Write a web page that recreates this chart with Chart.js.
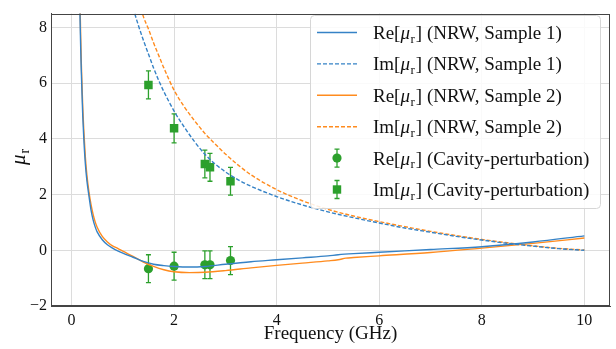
<!DOCTYPE html>
<html><head><meta charset="utf-8">
<script src="https://cdn.jsdelivr.net/npm/chart.js@4/dist/chart.umd.min.js"></script>
<style>html,body{margin:0;padding:0;background:#fff}#wrap{width:616px;height:349px}</style>
</head><body><div id="wrap"><canvas id="c" width="616" height="349"></canvas></div>
<script>
// ---- data ----
const freqRe1 = [0.15,0.16,0.17,0.18,0.19,0.20,0.22,0.24,0.27,0.30,0.34,0.38,0.42,0.46,0.50,0.6,0.7,0.8,0.9,1.0,1.2,1.4,1.6,1.8,2.0,2.3,2.6,3.0,3.5,4.0,4.5,5.0,5.2,5.5,6.0,7.0,8.0,9.0,10.0];
const re1     = [9.6,8.9,8.0,7.2,6.5,5.9,4.8,4.0,3.1,2.5,1.95,1.45,1.1,0.85,0.66,0.38,0.2,0.08,-0.02,-0.1,-0.25,-0.4,-0.5,-0.55,-0.58,-0.6,-0.58,-0.5,-0.41,-0.34,-0.27,-0.2,-0.16,-0.12,-0.07,0.03,0.13,0.3,0.52];
const freqRe2 = [0.16,0.17,0.18,0.19,0.20,0.22,0.24,0.27,0.30,0.34,0.38,0.42,0.46,0.50,0.6,0.7,0.8,0.9,1.0,1.2,1.4,1.6,1.8,2.0,2.3,2.6,3.0,3.5,4.0,4.5,5.0,5.2,5.35,5.5,6.0,7.0,8.0,9.0,10.0];
const re2     = [9.4,8.5,7.6,6.8,6.2,5.1,4.3,3.35,2.7,2.1,1.65,1.3,1.03,0.83,0.5,0.3,0.16,0.07,-0.03,-0.22,-0.42,-0.58,-0.7,-0.77,-0.8,-0.79,-0.73,-0.63,-0.54,-0.46,-0.38,-0.34,-0.28,-0.26,-0.2,-0.08,0.08,0.25,0.44];
const freqIm1 = [1.2,1.3,1.4,1.5,1.6,1.7,1.8,2.0,2.2,2.4,2.6,2.8,3.0,3.25,3.5,4.0,4.5,5.0,5.5,6.0,6.5,7.0,7.5,8.0,8.5,9.0,9.5,10.0];
const im1     = [8.7,8.1,7.55,7.05,6.55,6.1,5.7,5.0,4.42,3.9,3.45,3.1,2.82,2.53,2.3,1.93,1.63,1.38,1.17,0.98,0.8,0.65,0.5,0.37,0.25,0.15,0.06,0.0];
const freqIm2 = [1.3,1.4,1.5,1.6,1.7,1.8,2.0,2.2,2.4,2.6,2.8,3.0,3.25,3.5,4.0,4.5,5.0,5.5,6.0,6.5,7.0,7.5,8.0,8.5,9.0,9.5,10.0];
const im2     = [9.1,8.4,7.95,7.45,7.0,6.55,5.75,5.15,4.65,4.2,3.82,3.46,3.06,2.71,2.18,1.78,1.47,1.23,1.03,0.85,0.68,0.53,0.39,0.27,0.16,0.07,0.01];
const cavFreq  = [1.5,2.0,2.6,2.7,3.1];
const cavRe    = [-0.66,-0.57,-0.52,-0.52,-0.37];
const cavReErr = [0.5,0.5,0.5,0.5,0.5];
const cavIm    = [5.94,4.38,3.10,2.98,2.48];
const cavImErr = [0.5,0.52,0.5,0.5,0.5];
const xTicks = [0,2,4,6,8,10];
const yTicks = [-2,0,2,4,6,8];
const legendPre  = ['Re','Im','Re','Im','Re','Im'];
const legendPost = [' (NRW, Sample 1)',' (NRW, Sample 1)',' (NRW, Sample 2)',' (NRW, Sample 2)',' (Cavity-perturbation)',' (Cavity-perturbation)'];
const xTitle = 'Frequency (GHz)';

// ---- styles ----
const FONT = "'Liberation Serif','Times New Roman',serif";
const BLUE = '#3582c6', ORANGE = '#ff8b1e', GREEN = '#2ca02c';
const pts = (xs, ys) => xs.map((x,i)=>({x, y: ys[i]}));

const lineDs = (label, xs, ys, color, dash) => ({
  type:'line', label, data: pts(xs,ys), borderColor: color, backgroundColor: color,
  borderWidth: 1.4, borderDash: dash, pointRadius: 0, cubicInterpolationMode:'monotone', fill:false
});

const datasets = [
  lineDs('Re1', freqRe1, re1, BLUE, []),
  lineDs('Im1', freqIm1, im1, BLUE, [4,2]),
  lineDs('Re2', freqRe2, re2, ORANGE, []),
  lineDs('Im2', freqIm2, im2, ORANGE, [4,2]),
  {type:'scatter', label:'ReCav', data: pts(cavFreq, cavRe), err: cavReErr, pointStyle:'circle', pointRadius:4.6,
   backgroundColor: GREEN, borderColor: GREEN, borderWidth:0},
  {type:'scatter', label:'ImCav', data: pts(cavFreq, cavIm), err: cavImErr, pointStyle:'rect', pointRadius:6,
   backgroundColor: GREEN, borderColor: GREEN, borderWidth:0}
];

const errorBars = {
  id:'errorBars',
  beforeDatasetDraw(chart, args) {
    const ds = chart.data.datasets[args.index];
    if (!ds.err) return;
    const {ctx, scales:{x, y}} = chart;
    ctx.save();
    ctx.strokeStyle = GREEN; ctx.lineWidth = 1.3;
    ds.data.forEach((p,i) => {
      const px = x.getPixelForValue(p.x);
      const t = y.getPixelForValue(p.y + ds.err[i]);
      const b = y.getPixelForValue(p.y - ds.err[i]);
      ctx.beginPath();
      ctx.moveTo(px, t); ctx.lineTo(px, b);
      ctx.moveTo(px-2.5, t); ctx.lineTo(px+2.5, t);
      ctx.moveTo(px-2.5, b); ctx.lineTo(px+2.5, b);
      ctx.stroke();
    });
    ctx.restore();
  }
};

function drawMuLabel(ctx, x, yBase, pre, post, size) {
  ctx.textAlign = 'left'; ctx.textBaseline = 'alphabetic';
  ctx.font = size + 'px ' + FONT;
  ctx.fillText(pre + '[', x, yBase); x += ctx.measureText(pre + '[').width;
  ctx.font = 'italic ' + size + 'px ' + FONT;
  ctx.fillText('μ', x, yBase); x += ctx.measureText('μ').width + 0.5;
  ctx.font = Math.round(size*0.7) + 'px ' + FONT;
  ctx.fillText('r', x, yBase + size*0.2); x += ctx.measureText('r').width + 1;
  ctx.font = size + 'px ' + FONT;
  ctx.fillText(']' + post, x, yBase);
}

const decor = {
  id:'decor',
  afterDraw(chart) {
    const {ctx, chartArea:a} = chart;
    ctx.save();
    ctx.strokeStyle = '#444'; ctx.lineWidth = 1;
    ctx.strokeRect(Math.round(a.left)+0.5, Math.round(a.top)+0.5, Math.round(a.right-a.left)-1, Math.round(a.bottom-a.top)-1);
    ctx.fillStyle = '#111';
    ctx.translate(25, 157);
    ctx.rotate(-Math.PI/2);
    ctx.textBaseline = 'alphabetic'; ctx.textAlign = 'left';
    ctx.font = 'italic 21px ' + FONT;
    const w1 = ctx.measureText('μ').width;
    ctx.font = '14px ' + FONT;
    const w2 = ctx.measureText('r').width;
    const x0 = -(w1 + w2 + 1)/2;
    ctx.font = 'italic 21px ' + FONT;
    ctx.fillText('μ', x0, 0);
    ctx.font = '14px ' + FONT;
    ctx.fillText('r', x0 + w1 + 1, 4);
    ctx.restore();

    ctx.save();
    const lx = 310, ly = 15, lw = 290, lh = 193, r = 4;
    ctx.beginPath();
    ctx.roundRect(lx+0.5, ly+0.5, lw, lh, r);
    ctx.fillStyle = 'rgba(255,255,255,0.85)'; ctx.fill();
    ctx.strokeStyle = '#d6d6d6'; ctx.lineWidth = 1; ctx.stroke();
    const ds = chart.data.datasets;
    for (let i = 0; i < 6; i++) {
      const cy = 32.5 + i*31.4;
      const d = ds[i];
      if (d.type === 'line') {
        ctx.strokeStyle = d.borderColor; ctx.lineWidth = 1.4;
        ctx.setLineDash(d.borderDash);
        ctx.beginPath(); ctx.moveTo(317, cy); ctx.lineTo(357, cy); ctx.stroke();
        ctx.setLineDash([]);
      } else {
        const px = 337;
        ctx.strokeStyle = GREEN; ctx.lineWidth = 1.3;
        ctx.beginPath();
        ctx.moveTo(px, cy-9); ctx.lineTo(px, cy+9);
        ctx.moveTo(px-2.5, cy-9); ctx.lineTo(px+2.5, cy-9);
        ctx.moveTo(px-2.5, cy+9); ctx.lineTo(px+2.5, cy+9);
        ctx.stroke();
        ctx.fillStyle = GREEN;
        ctx.beginPath();
        if (d.pointStyle === 'circle') ctx.arc(px, cy, 4.6, 0, Math.PI*2);
        else ctx.rect(px-4.2, cy-4.2, 8.4, 8.4);
        ctx.fill();
      }
      ctx.fillStyle = '#111';
      drawMuLabel(ctx, 373, cy + 6.5, legendPre[i], legendPost[i], 19);
    }
    ctx.restore();
  }
};

Chart.defaults.font.family = FONT;
Chart.defaults.color = '#111';

new Chart(document.getElementById('c'), {
  data: { datasets },
  options: {
    responsive:false, animation:false, devicePixelRatio:1,
    layout:{ padding:{ left:0, right:5, top:6, bottom:0 } },
    plugins:{ legend:{display:false}, tooltip:{enabled:false} },
    scales:{
      x:{ type:'linear', min:-0.4, max:10.5,
          afterBuildTicks: s => { s.ticks = xTicks.map(v=>({value:v})); },
          afterFit: s => { s.height = 43; },
          grid:{ color:'#dcdcdc', lineWidth:1, drawTicks:false },
          border:{ color:'#444', width:1 },
          ticks:{ font:{size:16}, padding:5, color:'#111', maxRotation:0 },
          title:{ display:true, text:xTitle, font:{size:19}, color:'#111', padding:{top:0,bottom:4} } },
      y:{ type:'linear', min:-2, max:8.5,
          afterBuildTicks: s => { s.ticks = yTicks.map(v=>({value:v})); },
          afterFit: s => { s.width = 51; },
          grid:{ color:'#dcdcdc', lineWidth:1, drawTicks:false },
          border:{ color:'#444', width:1 },
          ticks:{ font:{size:16}, padding:4, color:'#111',
                  callback: v => v < 0 ? '\u2212' + Math.abs(v) : String(v) } }
    }
  },
  plugins:[errorBars, decor]
});
</script></body></html>
